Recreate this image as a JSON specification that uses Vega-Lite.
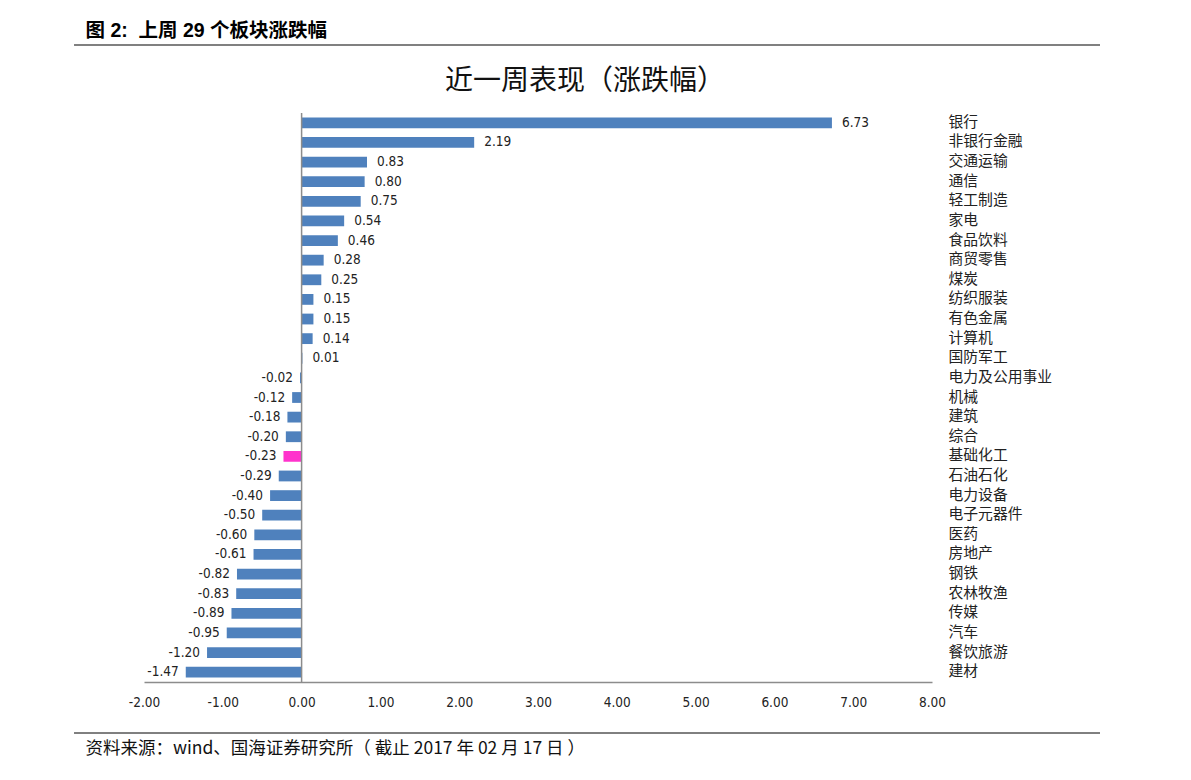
{
  "$schema": "https://vega.github.io/schema/vega-lite/v6.json",
  "width": 788,
  "height": 569,
  "autosize": {"type": "none"},
  "padding": {"left": 144, "top": 113, "right": 259, "bottom": 98},
  "background": "white",
  "config": {
    "view": {"stroke": null},
    "font": "Liberation Sans Narrow, Noto Sans CJK SC",
    "locale": {"number": {"decimal": ".", "thousands": ",", "grouping": [3], "currency": ["$", ""], "minus": "-"}}
  },
  "title": {
    "text": "近一周表现（涨跌幅）",
    "font": "Noto Sans CJK SC",
    "fontSize": 28,
    "fontWeight": "normal",
    "color": "#111111",
    "anchor": "middle",
    "dx": 47,
    "dy": 90,
    "offset": 14
  },
  "data": {
    "values": [
      {"name": "银行", "value": 6.73},
      {"name": "非银行金融", "value": 2.19},
      {"name": "交通运输", "value": 0.83},
      {"name": "通信", "value": 0.80},
      {"name": "轻工制造", "value": 0.75},
      {"name": "家电", "value": 0.54},
      {"name": "食品饮料", "value": 0.46},
      {"name": "商贸零售", "value": 0.28},
      {"name": "煤炭", "value": 0.25},
      {"name": "纺织服装", "value": 0.15},
      {"name": "有色金属", "value": 0.15},
      {"name": "计算机", "value": 0.14},
      {"name": "国防军工", "value": 0.01},
      {"name": "电力及公用事业", "value": -0.02},
      {"name": "机械", "value": -0.12},
      {"name": "建筑", "value": -0.18},
      {"name": "综合", "value": -0.20},
      {"name": "基础化工", "value": -0.23},
      {"name": "石油石化", "value": -0.29},
      {"name": "电力设备", "value": -0.40},
      {"name": "电子元器件", "value": -0.50},
      {"name": "医药", "value": -0.60},
      {"name": "房地产", "value": -0.61},
      {"name": "钢铁", "value": -0.82},
      {"name": "农林牧渔", "value": -0.83},
      {"name": "传媒", "value": -0.89},
      {"name": "汽车", "value": -0.95},
      {"name": "餐饮旅游", "value": -1.20},
      {"name": "建材", "value": -1.47}
    ]
  },
  "layer": [
    {
      "mark": {"type": "bar", "stroke": null},
      "encoding": {
        "y": {
          "field": "name",
          "type": "nominal",
          "sort": null,
          "scale": {"paddingInner": 0.45, "paddingOuter": 0.225},
          "axis": {
            "orient": "right",
            "domain": false,
            "ticks": false,
            "labelPadding": 16,
            "labelAlign": "left",
            "labelFont": "Noto Sans CJK SC",
            "labelFontSize": 14.8,
            "labelColor": "#222222",
            "title": "图\u00a02:\u00a0\u00a0上周\u00a029\u00a0个板块涨跌幅",
            "titleAngle": 0,
            "titleX": -847,
            "titleY": -83,
            "titleAlign": "left",
            "titleBaseline": "middle",
            "titleFont": "Liberation Sans, Noto Sans CJK SC",
            "titleFontSize": 19.5,
            "titleFontWeight": "bold",
            "titleColor": "#000000"
          }
        },
        "x": {
          "field": "value",
          "type": "quantitative",
          "scale": {"domain": [-2, 8], "nice": false, "zero": false},
          "axis": {
            "values": [-2, -1, 0, 1, 2, 3, 4, 5, 6, 7, 8],
            "format": ".2f",
            "grid": false,
            "ticks": false,
            "domainColor": "#8c8c8c",
            "domainWidth": 1.5,
            "labelPadding": 13,
            "labelFontSize": 13.5,
            "labelColor": "#222222",
            "labelFont": "Liberation Sans Narrow, DejaVu Sans Condensed",
            "labelFlush": false,
            "title": "资料来源：wind、国海证券研究所（ 截止 2017 年 02 月 17 日 ）",
            "titleX": -59,
            "titleY": 66,
            "titleAnchor": "start",
            "titleAlign": "left",
            "titleBaseline": "middle",
            "titleFont": "Liberation Sans Narrow, Noto Sans CJK SC",
            "titleFontSize": 17.5,
            "titleFontWeight": "normal",
            "titleColor": "#111111"
          }
        },
        "color": {
          "condition": {"test": "datum.name === '基础化工'", "value": "#FF33CC"},
          "value": "#4F81BD"
        }
      }
    },
    {
      "transform": [{"filter": "datum.value >= 0"}],
      "mark": {"type": "text", "align": "left", "baseline": "middle", "dx": 10, "fontSize": 13.5, "font": "Liberation Sans Narrow, DejaVu Sans Condensed", "color": "#222222"},
      "encoding": {
        "y": {"field": "name", "type": "nominal", "sort": null},
        "x": {"field": "value", "type": "quantitative"},
        "text": {"field": "value", "type": "quantitative", "format": ".2f"}
      }
    },
    {
      "transform": [{"filter": "datum.value < 0"}],
      "mark": {"type": "text", "align": "right", "baseline": "middle", "dx": -7, "fontSize": 13.5, "font": "Liberation Sans Narrow, DejaVu Sans Condensed", "color": "#222222"},
      "encoding": {
        "y": {"field": "name", "type": "nominal", "sort": null},
        "x": {"field": "value", "type": "quantitative"},
        "text": {"field": "value", "type": "quantitative", "format": ".2f"}
      }
    },
    {
      "data": {"values": [{}]},
      "mark": {"type": "rule", "color": "#8c8c8c", "strokeWidth": 1.5},
      "encoding": {"x": {"datum": 0}}
    },
    {
      "data": {"values": [{}]},
      "mark": {"type": "rule", "color": "#808080", "strokeWidth": 2},
      "encoding": {"x": {"datum": -2.888}, "x2": {"datum": 10.132}, "y": {"value": -68}}
    },
    {
      "data": {"values": [{}]},
      "mark": {"type": "rule", "color": "#000000", "strokeWidth": 1},
      "encoding": {"x": {"datum": -2.888}, "x2": {"datum": 10.132}, "y": {"value": 620}}
    }
  ]
}
